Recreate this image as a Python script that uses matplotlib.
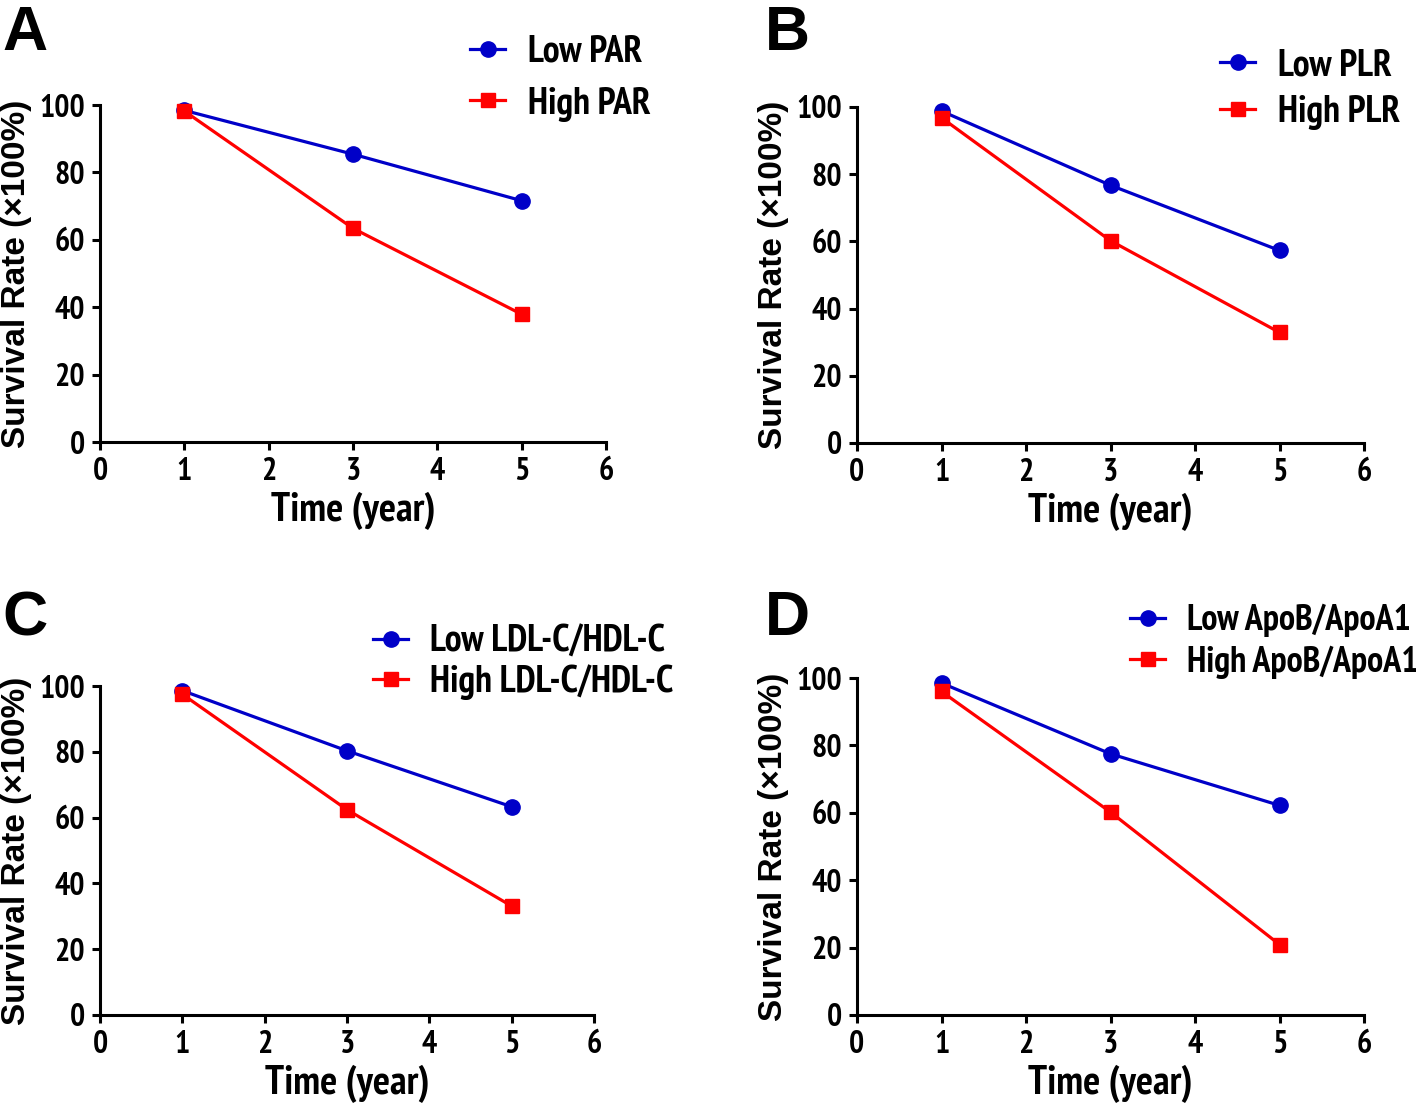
import matplotlib
matplotlib.use("Agg")
import matplotlib.pyplot as plt
from matplotlib import font_manager
from matplotlib.font_manager import FontProperties

W, H = 1416, 1106

years = [1, 3, 5]
x_ticks = [0, 1, 2, 3, 4, 5, 6]
y_ticks = [0, 20, 40, 60, 80, 100]

panel_letters = ["A", "B", "C", "D"]
low_labels = ["Low PAR", "Low PLR", "Low LDL-C/HDL-C", "Low ApoB/ApoA1"]
high_labels = ["High PAR", "High PLR", "High LDL-C/HDL-C", "High ApoB/ApoA1"]
low_values = [
    [98.4, 85.4, 71.6],
    [98.8, 76.7, 57.3],
    [98.6, 80.3, 63.3],
    [98.5, 77.5, 62.2],
]
high_values = [
    [98.2, 63.4, 37.9],
    [96.8, 60.2, 32.9],
    [97.5, 62.4, 33.1],
    [96.0, 60.2, 20.9],
]

# look for a narrow / condensed bold face
narrow_path = None
for key in ["Narrow", "Condensed"]:
    for f in font_manager.fontManager.ttflist:
        if key in f.name or key.lower() in str(f.stretch).lower():
            if f.weight in (700, "bold") and f.style == "normal":
                narrow_path = f.fname
                break
    if narrow_path:
        break

def nfp(size):
    if narrow_path:
        return FontProperties(fname=narrow_path, size=size)
    return FontProperties(family=["Liberation Sans", "DejaVu Sans"], weight="bold", size=size * 0.75)

def wfp(size):
    return FontProperties(family=["Liberation Sans", "DejaVu Sans"], weight="bold", size=size)

BLUE = "#0000C8"
RED = "#FF0000"

rects = [
    (100, 606, 442, 105),
    (857, 1364, 443, 107),
    (100, 594, 1015, 686),
    (857, 1364, 1015, 678),
]
# handle-left x, top y, labelspacing, fontsize
legend_pos = [(470, 35, 0.44, 27), (1220, 48, 0.31, 27), (373, 625, 0.12, 27), (1130, 604, 0.22, 26)]
letter_pos = [(2, 50), (765, 50), (2, 635), (765, 635)]

fig = plt.figure(figsize=(W / 100, H / 100), dpi=100)

for i in range(4):
    x0, x6, yb, yt = rects[i]
    ax = fig.add_axes([x0 / W, 1 - yb / H, (x6 - x0) / W, (yb - yt) / H])
    ax.plot(years, low_values[i], color=BLUE, lw=2.3, marker="o", ms=11,
            label=low_labels[i], clip_on=False, zorder=3)
    ax.plot(years, high_values[i], color=RED, lw=2.3, marker="s", ms=10.5,
            label=high_labels[i], clip_on=False, zorder=3)
    ax.set_xlim(0, 6)
    ax.set_ylim(0, 100)
    ax.set_xticks(x_ticks)
    ax.set_yticks(y_ticks)
    for s in ["top", "right"]:
        ax.spines[s].set_visible(False)
    for s in ["left", "bottom"]:
        ax.spines[s].set_linewidth(2.2)
    ax.tick_params(direction="out", length=6, width=2.2, pad=5)
    for lab in ax.get_xticklabels() + ax.get_yticklabels():
        lab.set_fontproperties(nfp(23))
    ax.set_xlabel("Time (year)", fontproperties=nfp(29), labelpad=3)
    ax.set_ylabel("Survival Rate (\u00d7100%)", fontproperties=wfp(24), labelpad=5)
    lx, ly, sp, fs = legend_pos[i]
    hl = 35 / (fs * 100 / 72)
    ax.legend(loc="upper left", bbox_to_anchor=(lx / W, 1 - ly / H),
              bbox_transform=fig.transFigure, frameon=False, borderpad=0,
              borderaxespad=0, handlelength=hl, handletextpad=0.6,
              labelspacing=sp, prop=nfp(fs))
    tx, ty = letter_pos[i]
    fig.text(tx / W, 1 - ty / H, panel_letters[i], fontproperties=wfp(45),
             va="baseline", ha="left")

fig.savefig("out.png", dpi=100)
